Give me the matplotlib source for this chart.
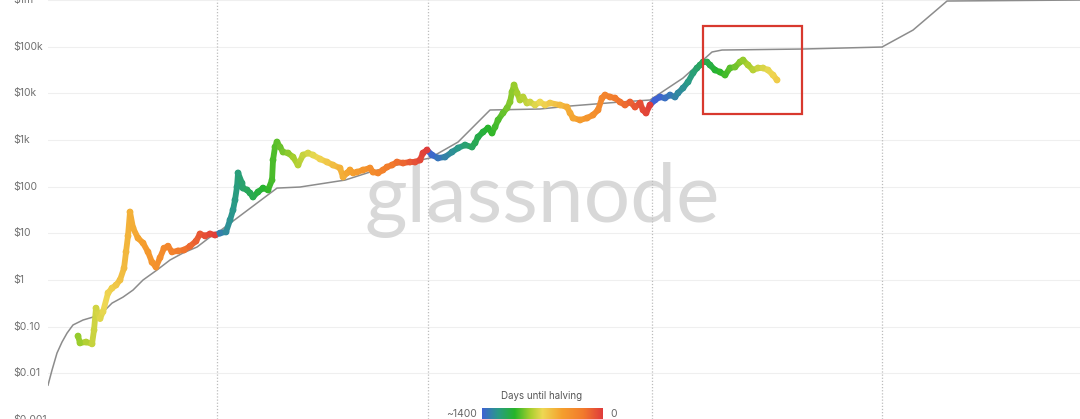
import matplotlib
matplotlib.use('Agg')
import matplotlib.pyplot as plt
import numpy as np
from matplotlib.collections import LineCollection
from matplotlib.colors import LinearSegmentedColormap
from matplotlib.patches import Rectangle
from matplotlib.transforms import blended_transform_factory

plt.rcParams['font.family'] = ['Inter', 'DejaVu Sans']

# Halving dates (decimal years), last one projected
HALVINGS = [2012.908, 2016.521, 2020.359, 2024.29]

# BTC price (decimal year, USD)
price_t = [
    2010.528, 2010.562, 2010.665, 2010.768, 2010.802, 2010.836, 2010.905, 2010.956,
    2011.042, 2011.110, 2011.179, 2011.247, 2011.316, 2011.350, 2011.384, 2011.418,
    2011.470, 2011.555, 2011.641, 2011.726, 2011.795, 2011.863, 2011.932, 2012.000,
    2012.069, 2012.137, 2012.240, 2012.343, 2012.446, 2012.548, 2012.617, 2012.703,
    2012.788, 2012.874,
    2012.959, 2013.062, 2013.131, 2013.182, 2013.216, 2013.250, 2013.268, 2013.336,
    2013.353, 2013.422, 2013.473, 2013.524, 2013.610, 2013.696, 2013.781, 2013.850,
    2013.867, 2013.901, 2013.935, 2013.987, 2014.038, 2014.124, 2014.209, 2014.295,
    2014.381, 2014.466, 2014.552, 2014.672, 2014.792, 2014.894, 2015.014, 2015.066,
    2015.134, 2015.185, 2015.237, 2015.305, 2015.408, 2015.528, 2015.579, 2015.665,
    2015.750, 2015.819, 2015.905, 2015.990, 2016.093, 2016.213, 2016.298, 2016.384,
    2016.435, 2016.504,
    2016.590, 2016.692, 2016.812, 2016.932, 2017.035, 2017.155, 2017.274, 2017.326,
    2017.377, 2017.463, 2017.548, 2017.617, 2017.668, 2017.720, 2017.805, 2017.874,
    2017.925, 2017.959, 2017.994, 2018.045, 2018.096, 2018.148, 2018.216, 2018.268,
    2018.353, 2018.439, 2018.524, 2018.610, 2018.781, 2018.901, 2018.953, 2019.004,
    2019.124, 2019.244, 2019.346, 2019.432, 2019.500, 2019.552, 2019.637, 2019.723,
    2019.809, 2019.894, 2019.980, 2020.066, 2020.151, 2020.203, 2020.254, 2020.322,
    2020.408, 2020.494, 2020.579, 2020.665, 2020.750, 2020.802, 2020.887, 2020.973,
    2021.059, 2021.127, 2021.179, 2021.230, 2021.298, 2021.350, 2021.435, 2021.521,
    2021.607, 2021.692, 2021.778, 2021.863, 2021.915, 2022.000, 2022.086, 2022.172,
    2022.257, 2022.343, 2022.429, 2022.497,
]
price_usd = [
    0.063, 0.045, 0.047, 0.043, 0.085, 0.25, 0.15, 0.21,
    0.53, 0.67, 0.78, 1.0, 1.8, 4.0, 8.8, 28.6,
    13.0, 7.9, 6.2, 4.0, 2.4, 1.9, 3.0, 4.8,
    5.3, 4.0, 4.2, 4.4, 5.3, 6.8, 9.7, 8.8,
    9.7, 9.2,
    10.1, 10.7, 19.3, 31.5, 51.6, 98, 196, 119,
    93, 85, 73, 60, 77, 93, 85, 138,
    371, 705, 902, 705, 551, 524, 430, 290,
    475, 524, 475, 390, 336, 290, 250, 161,
    196, 227, 196, 205, 227, 250, 205, 196,
    227, 263, 290, 336, 320, 336, 336, 371,
    524, 608,
    475, 410, 430, 551, 671, 778, 705, 859,
    1153, 1476, 1798, 1405, 1890, 2670, 3770, 4820,
    6480, 10600, 15000, 10100, 7150, 8300, 6170, 6480,
    5590, 6480, 5590, 6170, 5590, 5060, 3770, 2940,
    2670, 2940, 3410, 4370, 7890, 9150, 8300, 7890,
    6480, 5590, 6480, 5060, 6170, 4370, 3770, 5590,
    7150, 8300, 7890, 9150, 8300, 10100, 12900, 17400,
    27100, 34700, 40200, 46600, 46600, 40200, 31400, 28400,
    24500, 34700, 36400, 46600, 51400, 40200, 31400, 34700,
    34700, 31400, 24500, 19200,
]

# Stock-to-flow model line (decimal year, USD)
s2f_t = [
    2010.014, 2010.083, 2010.168, 2010.254, 2010.340, 2010.442, 2010.613, 2010.785,
    2010.939, 2011.110, 2011.298, 2011.470, 2011.641, 2011.881, 2012.103, 2012.326,
    2012.566, 2012.788, 2012.908, 2013.935, 2014.329, 2015.100, 2015.528, 2015.990,
    2016.555, 2017.035, 2017.583, 2018.439, 2018.952, 2019.809, 2020.322, 2020.887,
    2021.384, 2021.555, 2022.925, 2024.295, 2024.826, 2025.168, 2025.408, 2027.685,
]
s2f_usd = [
    0.0056, 0.0118, 0.0273, 0.047, 0.073, 0.109, 0.139, 0.161,
    0.196, 0.32, 0.43, 0.61, 1.0, 1.64, 2.68, 3.79,
    5.09, 8.3, 10.1, 93, 98, 138, 205, 290,
    410, 900, 4370, 4590, 5320, 6480, 7150, 21100,
    76300, 84100, 88300, 97500, 225000, 521000, 942000, 990000,
]

tick_values = [1e-3, 1e-2, 0.1, 1, 10, 100, 1e3, 1e4, 1e5, 1e6]
tick_labels = [r"\$0.001", r"\$0.01", r"\$0.10", r"\$1", r"\$10", r"\$100",
               r"\$1k", r"\$10k", r"\$100k", r"\$1m"]

MAX_DAYS = 1400
cmap = LinearSegmentedColormap.from_list("halving", [
    (0.0, "#3f62d4"), (0.13, "#2a9a88"), (0.27, "#27b52a"), (0.40, "#a8cf2e"),
    (0.50, "#eed853"), (0.66, "#f5a02e"), (0.84, "#f27a2c"), (1.0, "#df3b3b"),
])


def days_until_halving(t):
    nxt = next(h for h in HALVINGS if h > t)
    return min((nxt - t) * 365.25, MAX_DAYS)


fig = plt.figure(figsize=(10.8, 4.19), dpi=100)
ax = fig.add_axes([48 / 1080, 0, 1 - 48 / 1080, 1])
ax.set_yscale('log')
ax.set_xlim(2010.014, 2027.685)
ax.set_ylim(10 ** -2.976, 10 ** 5.996)
for s in ax.spines.values():
    s.set_visible(False)
ax.set_xticks([])
ax.set_yticks([])
ax.minorticks_off()

# grid
for v in tick_values:
    ax.axhline(v, color='#efefef', lw=0.8, zorder=0)
for h in HALVINGS:
    ax.axvline(h, color='#bdbdbd', lw=0.9, ls=(0, (1, 1.5)), zorder=1)

# watermark
ax.text(0.502, 0.470, "glassnode", transform=fig.transFigure, fontsize=59,
        family=['Lato', 'DejaVu Sans'], color='#d8d8d8', ha='center',
        va='baseline', zorder=0.5)

# model line
ax.plot(s2f_t, s2f_usd, color='#8c8c8c', lw=1.1, zorder=3)

# price coloured by days until halving
pts = np.column_stack([price_t, price_usd])
segs = np.stack([pts[:-1], pts[1:]], axis=1)
mid_t = [(a + b) / 2 for a, b in zip(price_t[:-1], price_t[1:])]
seg_cols = [cmap(1 - days_until_halving(t) / MAX_DAYS) for t in mid_t]
lc = LineCollection(segs, colors=seg_cols, linewidths=4.2, capstyle='round',
                    joinstyle='round', zorder=4)
ax.add_collection(lc)
pt_cols = [cmap(1 - days_until_halving(t) / MAX_DAYS) for t in price_t]
ax.scatter(price_t, price_usd, c=pt_cols, s=24, lw=0, zorder=4)

# highlight box
ax.add_patch(Rectangle((2021.23, 3590), 2022.925 - 2021.23, 275000 - 3590,
                       fill=False, ec='#d8392e', lw=1.6, zorder=6))

# y labels
trans = blended_transform_factory(fig.transFigure, ax.transData)
for v, l in zip(tick_values, tick_labels):
    ax.text(13 / 1080, v, l, transform=trans, ha='left', va='center',
            fontsize=7.5, color='#707070', clip_on=False)

# colour legend
cax = fig.add_axes([482 / 1080, -3 / 419, 121 / 1080, 14 / 419])
cax.imshow(np.linspace(0, 1, 256)[None, :], aspect='auto', cmap=cmap)
cax.axis('off')
fig.text(542 / 1080, 1 - 396 / 419, "Days until halving", ha='center',
         va='center', fontsize=7, color='#555555')
fig.text(477 / 1080, 1 - 414 / 419, "~1400", ha='right', va='center',
         fontsize=7.5, color='#666666')
fig.text(610 / 1080, 1 - 414 / 419, "0", ha='left', va='center',
         fontsize=7.5, color='#666666')

fig.savefig('out.png', dpi=100)
